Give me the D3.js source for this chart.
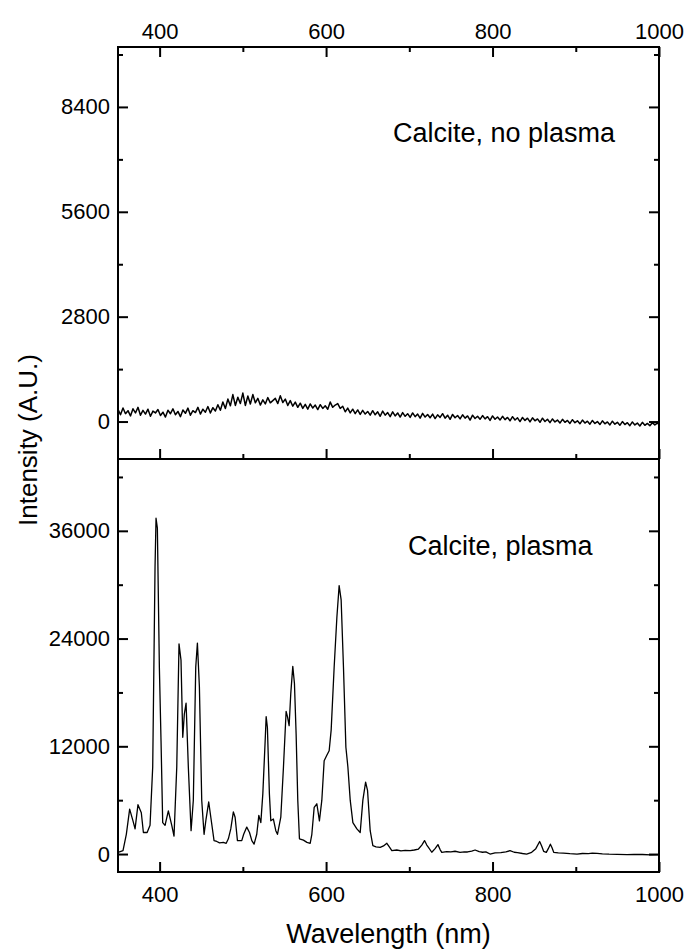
<!DOCTYPE html>
<html><head><meta charset="utf-8">
<script src="https://cdn.jsdelivr.net/npm/d3@7"></script>
<style>
body{margin:0;background:#fff}
text{font-family:"Liberation Sans",Arial,sans-serif;fill:#000}
</style>
</head><body>
<svg id="c" width="687" height="949"></svg>
<script>
// ---------- data ----------
const xTicks = [400, 600, 800, 1000];
const xMinor = [500, 700, 900];
const topYTicks = [0, 2800, 5600, 8400];
const topYMinor = [1400, 4200, 7000, 9800];
const botYTicks = [0, 12000, 24000, 36000];
const botYMinor = [6000, 18000, 30000, 42000];
const topLabel = "Calcite, no plasma";
const botLabel = "Calcite, plasma";
const xTitle = "Wavelength (nm)";
const yTitle = "Intensity (A.U.)";

// top panel: spectrum sampled every 3 nm from 350 nm
const topStart = 350, topStep = 3;
const topValues = [
330,180,360,210,290,150,340,230,380,170,300,200,330,140,280,230,320,
160,250,120,300,210,340,180,270,130,310,220,360,170,290,240,380,200,
330,250,400,230,370,280,450,300,520,350,600,420,720,430,650,480,760,
430,680,470,720,500,620,440,580,470,640,500,560,620,480,690,510,600,
430,560,410,520,380,490,350,460,330,470,360,440,320,450,350,420,330,
520,380,440,480,350,410,260,360,230,330,210,310,190,300,200,270,170,
290,180,260,140,280,170,240,130,260,150,230,120,240,140,210,110,230,
130,200,90,220,120,190,100,200,80,180,110,210,90,170,60,190,100,
160,70,180,90,150,40,170,80,140,60,160,70,130,30,150,60,120,
40,140,50,110,20,130,40,100,0,110,30,90,-10,100,20,70,-20,
90,0,60,-30,70,-10,40,-40,60,-20,30,-50,50,-30,20,-60,40,
-40,10,-70,30,-50,0,-80,20,-60,-10,-90,10,-70,-20,-100,0,-80,
-30,-110,-10,-90,-40,-120,-20,-100,-50,-110,-30,-90,-40,-80
];

// bottom panel: wavelength (nm) and intensity
const botWavelengths = [
350,356,360,364,368,370.5,374,378,380.5,385,388.5,391.7,394.5,395.7,397.3,399.7,401.7,403.7,406.5,410.5,
414.6,417.3,420.6,423.3,425.7,427.8,429.7,431.8,434.5,437.8,440.5,443.4,445.4,447.8,450.6,453.4,455.8,459,461.8,465.4,
468.7,472,476.6,480,482.6,485.5,488.6,490.7,493.5,498.7,501,504.7,508,510.8,513.5,516.7,519.2,521.6,524,526.8,
528,529.5,531.9,533.6,536.7,539.6,541.6,545.6,548.8,552,553.6,555.6,557.6,560,562,564,566,568,572.8,577,
580.9,582.9,585.7,588.9,592,594.9,597.7,600.9,603.7,606.1,609.7,613,615.7,618.1,620.9,623.8,626.2,629,632.2,637,
641,644.2,647.5,649.8,653,656.2,660,665,669,673,676,679,685,690,695,701,706,711,715,718.3,
721,723,727,731,734.4,737,739,745,750,755,761,766,770,775,779,784,788,792,797,803,
810,816,821,826,830,836,841,847,852,856.6,859,861.4,864.6,867,869.5,871.5,873.5,879,885,893,
901.5,908,915,920,925.6,932,940,950,961.7,970,980,990,1000
];
const botValues = [
180,370,2200,5000,3700,2800,5500,4600,2400,2400,3200,9700,32000,37400,36300,20800,12600,3500,3200,4800,
3200,2000,9700,23400,21600,13000,15600,16800,9700,2600,6000,20800,23500,18600,6000,2200,3900,5800,3900,1500,
1400,1250,1300,1200,1700,2800,4700,4100,1500,1500,2200,3000,2400,1500,1100,2200,4300,3500,6700,12600,
15300,14100,6700,3700,3900,2600,2200,4100,9700,15900,15300,14300,17900,20900,19000,13400,6000,1700,1550,1300,
1200,2200,5200,5600,3700,6000,10400,11000,11500,13800,20800,26400,29900,28300,20800,11900,9700,6000,3500,2800,
2400,6000,8000,7100,2600,930,800,740,900,1200,800,370,450,350,420,370,450,560,1000,1500,
1000,740,200,600,1050,500,190,280,230,310,190,250,230,320,450,260,200,240,0,120,
150,250,370,200,150,60,0,190,600,1400,900,300,190,600,1100,700,190,130,100,40,
0,60,50,100,75,20,-20,-40,-75,-40,-50,-90,-75
];

// ---------- layout ----------
const L = 118, R = 659, T = 47, M = 459, B = 872;
const svg = d3.select("#c");

const x = d3.scaleLinear().domain([350, 1000]).range([L, R]);
const yTop = d3.scaleLinear().domain([-1000, 10000]).range([M, T]);
const yBot = d3.scaleLinear().domain([-2000, 44000]).range([B, M]);

const defs = svg.append("defs");
defs.append("clipPath").attr("id", "clipTop").append("rect")
  .attr("x", L).attr("y", T).attr("width", R - L).attr("height", M - T);
defs.append("clipPath").attr("id", "clipBot").append("rect")
  .attr("x", L).attr("y", M).attr("width", R - L).attr("height", B - M);

// data lines
const topData = topValues.map((v, i) => [topStart + i * topStep, v]);
const botData = botWavelengths.map((w, i) => [w, botValues[i]]);

svg.append("path").datum(topData)
  .attr("clip-path", "url(#clipTop)")
  .attr("fill", "none").attr("stroke", "#000").attr("stroke-width", 1.5)
  .attr("stroke-linejoin", "round")
  .attr("d", d3.line().x(d => x(d[0])).y(d => yTop(d[1])));

svg.append("path").datum(botData)
  .attr("clip-path", "url(#clipBot)")
  .attr("fill", "none").attr("stroke", "#000").attr("stroke-width", 1.3)
  .attr("stroke-linejoin", "round")
  .attr("d", d3.line().x(d => x(d[0])).y(d => yBot(d[1])));

// axes helper
function ax(gen, scale, ticks, size, labels, tx, ty) {
  const a = gen(scale).tickValues(ticks).tickSizeInner(size).tickSizeOuter(0).tickPadding(8);
  if (!labels) a.tickFormat("");
  else a.tickFormat(d3.format("d"));
  const g = svg.append("g").attr("transform", `translate(${tx},${ty})`).call(a);
  g.select(".domain").remove();
  g.selectAll("line").attr("stroke", "#000").attr("stroke-width", 2);
  g.selectAll("text").attr("font-size", 22).attr("font-family", '"Liberation Sans",Arial,sans-serif').attr("fill", "#000");
  return g;
}

// top panel axes
ax(d3.axisTop, x, xTicks, -10, true, 0, T);
ax(d3.axisTop, x, xMinor, -5, false, 0, T);
ax(d3.axisBottom, x, xTicks, -10, false, 0, M);
ax(d3.axisBottom, x, xMinor, -5, false, 0, M);
ax(d3.axisLeft, yTop, topYTicks, -10, true, L, 0);
ax(d3.axisLeft, yTop, topYMinor, -5, false, L, 0);
ax(d3.axisRight, yTop, topYTicks, -10, false, R, 0);
ax(d3.axisRight, yTop, topYMinor, -5, false, R, 0);

// bottom panel axes
const gb = ax(d3.axisBottom, x, xTicks, -10, true, 0, B);
gb.selectAll("text").attr("dy", "0").attr("y", 30);
ax(d3.axisBottom, x, xMinor, -5, false, 0, B);
ax(d3.axisLeft, yBot, botYTicks, -10, true, L, 0);
ax(d3.axisLeft, yBot, botYMinor, -5, false, L, 0);
ax(d3.axisRight, yBot, botYTicks, -10, false, R, 0);
ax(d3.axisRight, yBot, botYMinor, -5, false, R, 0);

// frames
svg.append("rect").attr("x", L).attr("y", T).attr("width", R - L).attr("height", M - T)
  .attr("fill", "none").attr("stroke", "#000").attr("stroke-width", 2);
svg.append("rect").attr("x", L).attr("y", M).attr("width", R - L).attr("height", B - M)
  .attr("fill", "none").attr("stroke", "#000").attr("stroke-width", 2);

// labels
svg.append("text").attr("x", 393).attr("y", 141.5).attr("font-size", 27).text(topLabel);
svg.append("text").attr("x", 408).attr("y", 555).attr("font-size", 27).text(botLabel);
svg.append("text").attr("x", (L + R) / 2).attr("y", 943).attr("text-anchor", "middle")
  .attr("font-size", 27).text(xTitle);
svg.append("text").attr("transform", `translate(37,440) rotate(-90)`)
  .attr("text-anchor", "middle").attr("font-size", 26).text(yTitle);
</script>
</body></html>
